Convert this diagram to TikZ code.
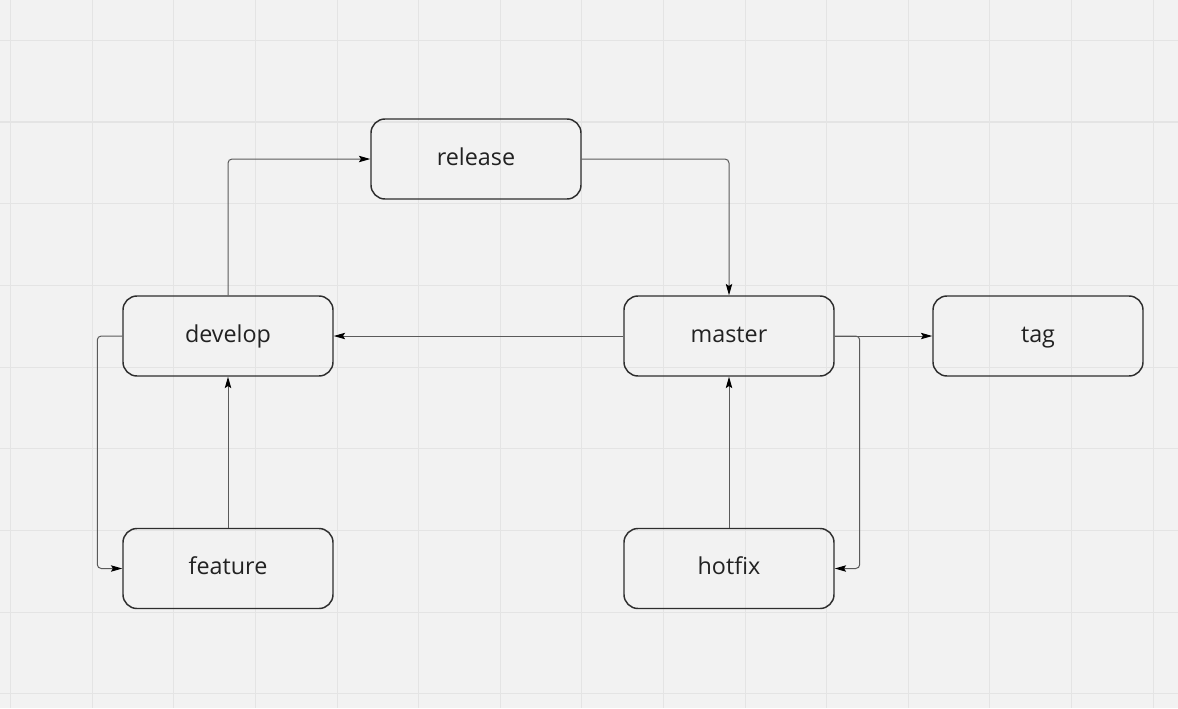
\documentclass[tikz,border=0pt]{standalone}
\usepackage{fontspec}
\setmainfont{Open Sans}
\usetikzlibrary{arrows.meta}
\definecolor{bg}{HTML}{F2F2F2}
\definecolor{gridc}{HTML}{E4E4E4}
\definecolor{boxc}{HTML}{2E2E2E}
\definecolor{linec}{HTML}{5A5A5A}
\definecolor{txtc}{HTML}{222222}
\begin{document}
\begin{tikzpicture}[x=0.75pt,y=-0.75pt,
  stepbox/.style={draw=boxc, line width=1.1pt, rounded corners=10.5pt,
    minimum width=157.5pt, minimum height=60pt, inner sep=0pt,
    font=\fontsize{17.5}{20}\selectfont, text=txtc, text height=9pt, text depth=0pt},
  conn/.style={draw=linec, line width=0.75pt, rounded corners=3pt,
    -{Stealth[length=8.5pt,width=4.8pt,inset=1.5pt,color=black]}}]
\useasboundingbox (0,0) rectangle (1178,708);
\fill[bg] (0,0) rectangle (1178,708);
\foreach \i in {0,...,14} \draw[gridc, line width=0.8pt] (10.7+\i*81.6,0) -- (10.7+\i*81.6,708);
\foreach \j in {0,...,8} \draw[gridc, line width=0.8pt] (0,40.3+\j*81.7) -- (1178,40.3+\j*81.7);

\node[stepbox] (release) at (476,159) {release};
\node[stepbox] (develop) at (228,336) {develop};
\node[stepbox] (master) at (729,336) {master};
\node[stepbox] (tag) at (1038,336) {tag};
\node[stepbox] (feature) at (228,568.5) {feature};
\node[stepbox] (hotfix) at (729,568.5) {hotfix};

\draw[conn] (develop.north) |- (release.west);
\draw[conn] (release.east) -| (master.north);
\draw[conn] (master.west) -- (develop.east);
\draw[conn] (master.east) -- (tag.west);
\draw[conn] (master.east) -- ++(25,0) |- (hotfix.east);
\draw[conn] (develop.west) -- ++(-25,0) |- (feature.west);
\draw[conn] (feature.north) -- (develop.south);
\draw[conn] (hotfix.north) -- (master.south);
\end{tikzpicture}
\end{document}
